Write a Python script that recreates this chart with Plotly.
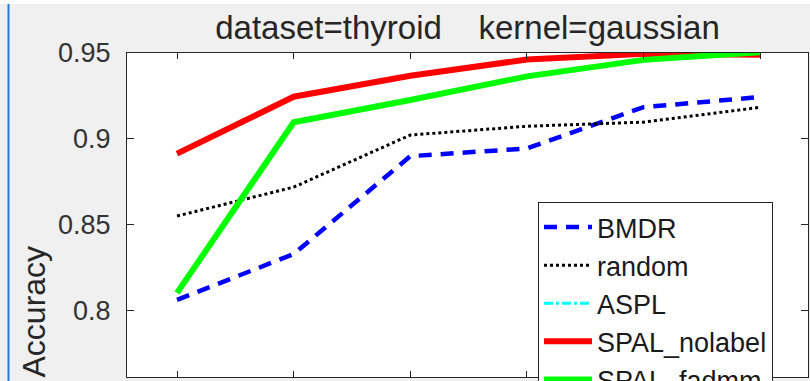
import plotly.graph_objects as go

# ---- data ----
x_steps = [1, 2, 3, 4, 5, 6]
bmdr = [0.8064, 0.8331, 0.8900, 0.8945, 0.9185, 0.9244]
random_sel = [0.8552, 0.8720, 0.9023, 0.9074, 0.9098, 0.9184]
aspl = [0.8915, 0.9246, 0.9368, 0.9462, 0.9495, 0.9490]
spal_nolabel = [0.8915, 0.9246, 0.9368, 0.9462, 0.9495, 0.9490]
spal_fadmm = [0.8105, 0.9097, 0.9227, 0.9364, 0.9460, 0.9505]

y_tickvals = [0.8, 0.85, 0.9, 0.95]
y_ticktext = ["0.8", "0.85", "0.9", "0.95"]

title_text = "dataset=thyroid\u00a0\u00a0\u00a0\u00a0kernel=gaussian"

FONT = "Liberation Sans, Arial, Helvetica, sans-serif"
AX = "#262626"

fig = go.Figure()
fig.add_trace(go.Scatter(x=x_steps, y=bmdr, name="BMDR", mode="lines",
                         line=dict(color="#0000FF", width=4.5, dash="13px,9px")))
fig.add_trace(go.Scatter(x=x_steps, y=random_sel, name="random", mode="lines",
                         line=dict(color="#000000", width=3, dash="dot")))
fig.add_trace(go.Scatter(x=x_steps, y=aspl, name="ASPL", mode="lines",
                         line=dict(color="#00FFFF", width=3, dash="dashdot")))
fig.add_trace(go.Scatter(x=x_steps, y=spal_nolabel, name="SPAL_nolabel", mode="lines",
                         line=dict(color="#FF0000", width=6)))
fig.add_trace(go.Scatter(x=x_steps, y=spal_fadmm, name="SPAL_fadmm", mode="lines",
                         line=dict(color="#00FF00", width=6)))

# plot area in pixels: x 127..808, y 53..377
L, R, T, B = 127, 808, 53, 377
W, H = 810, 381
pw, ph = R - L, B - T

def px(xp):
    return (xp - L) / pw

def py(yp):
    return (B - yp) / ph

fig.update_layout(
    width=W, height=H,
    margin=dict(l=L, r=W - R, t=T, b=H - B, pad=0, autoexpand=False),
    paper_bgcolor="#F0F0F0",
    plot_bgcolor="#FFFFFF",
    font=dict(family=FONT, color=AX, size=26),
    title=dict(text=title_text, x=0.5 * (L + R) / W, xanchor="center",
               y=1 - 27 / H, yanchor="middle",
               font=dict(size=33, color="#262626", family=FONT)),
    xaxis=dict(range=[0.571, 6.41], tickvals=x_steps, showticklabels=False,
               ticks="inside", ticklen=6, tickcolor=AX, tickwidth=1,
               showline=True, linecolor=AX, linewidth=1, mirror="ticks",
               showgrid=False, zeroline=False),
    yaxis=dict(range=[0.7616, 0.95], tickvals=y_tickvals, ticktext=y_ticktext,
               ticks="inside", ticklen=7, tickcolor=AX, tickwidth=1,
               showline=True, linecolor=AX, linewidth=1, mirror="ticks",
               showgrid=False, zeroline=False, ticklabelstandoff=10,
               tickfont=dict(size=27, color="#333333", family=FONT)),
    legend=dict(x=px(538), y=py(202), xanchor="left", yanchor="top",
                bgcolor="#FFFFFF", bordercolor=AX, borderwidth=1,
                font=dict(size=27, color="#1a1a1a", family=FONT),
                tracegroupgap=0, itemwidth=48),
    showlegend=True,
)

fig.add_annotation(text="Accuracy", textangle=-90, xref="paper", yref="paper",
                   x=px(33.5), y=py(311), xanchor="center", yanchor="middle",
                   showarrow=False, font=dict(size=32, color="#262626", family=FONT))

# screenshot frame details: white strip on top, blue window edge on the left
fig.add_shape(type="rect", xref="paper", yref="paper",
              x0=px(0), x1=px(W), y0=py(4), y1=py(0),
              fillcolor="#FFFFFF", line=dict(width=0), layer="above")
fig.add_shape(type="line", xref="paper", yref="paper",
              x0=px(8.5), x1=px(8.5), y0=py(4), y1=py(H),
              line=dict(color="#2A7AD5", width=2), layer="above")

fig.write_html("out.html")
